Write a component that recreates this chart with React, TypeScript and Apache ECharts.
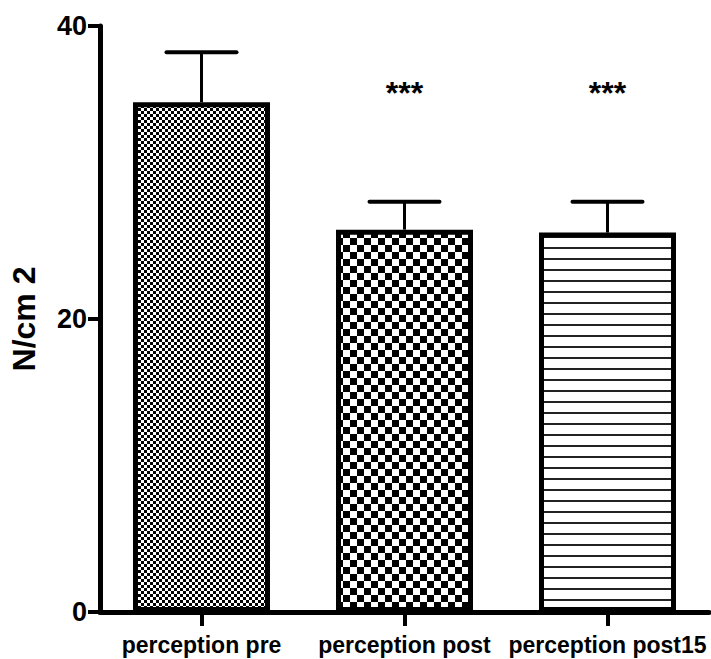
import React, { useEffect, useRef } from "react";
import * as echarts from "echarts";

const categories = ["perception pre", "perception post", "perception post15"];
const means = [34.8, 26.1, 25.9];
const errorTops = [38.2, 28.0, 28.0];
const significance = ["", "***", "***"];
const yMin = 0;
const yMax = 40;
const yInterval = 20;
const STAR_LEVEL = 35.4;

const FONT = '"Liberation Sans", Arial, sans-serif';

function makePattern(kind: string) {
  const c = document.createElement("canvas");
  let w = 6;
  let h = 6;
  if (kind === "coarse") {
    w = 14;
    h = 14;
  } else if (kind === "lines") {
    w = 11;
    h = 11;
  }
  c.width = w;
  c.height = h;
  const ctx = c.getContext("2d")!;
  ctx.fillStyle = "#fff";
  ctx.fillRect(0, 0, w, h);
  ctx.fillStyle = "#000";
  if (kind === "fine") {
    ctx.fillRect(0, 0, 3, 3);
    ctx.fillRect(3, 3, 3, 3);
  } else if (kind === "coarse") {
    ctx.fillRect(0, 0, 7, 7);
    ctx.fillRect(7, 7, 7, 7);
  } else {
    ctx.fillStyle = "#222";
    ctx.fillRect(0, 5, 11, 2);
  }
  return { image: c, repeat: "repeat", imageWidth: w, imageHeight: h } as any;
}

export default function App() {
  const ref = useRef<HTMLDivElement>(null);
  useEffect(() => {
    if (!ref.current) return;
    const chart = echarts.init(ref.current, null, { renderer: "svg" });
    const patterns = [makePattern("fine"), makePattern("coarse"), makePattern("lines")];
    chart.setOption({
      animation: false,
      backgroundColor: "#fff",
      grid: {
        left: 100,
        right: 2,
        top: 26,
        bottom: 47,
        containLabel: false,
        outerBoundsMode: "none",
      },
      xAxis: {
        type: "category",
        data: categories,
        axisLine: { show: true, lineStyle: { color: "#000", width: 5 } },
        axisTick: { show: true, alignWithLabel: true, length: 14, lineStyle: { color: "#000", width: 4 } },
        axisLabel: {
          color: "#000",
          fontWeight: "bold",
          fontSize: 23,
          fontFamily: FONT,
          margin: 21,
          interval: 0,
          hideOverlap: false,
        },
        splitLine: { show: false },
      },
      yAxis: {
        type: "value",
        min: yMin,
        max: yMax,
        interval: yInterval,
        name: "N/cm 2",
        nameLocation: "middle",
        nameRotate: 90,
        nameGap: 60,
        nameTextStyle: { color: "#000", fontWeight: "bold", fontSize: 32, fontFamily: FONT },
        axisLine: { show: true, lineStyle: { color: "#000", width: 5 } },
        axisTick: { show: true, length: 12, lineStyle: { color: "#000", width: 4 } },
        axisLabel: { color: "#000", fontWeight: "bold", fontSize: 27, fontFamily: FONT, margin: 13 },
        splitLine: { show: false },
      },
      series: [
        {
          type: "bar",
          barWidth: 137,
          data: means.map((v, i) => ({
            value: v,
            itemStyle: { color: patterns[i], borderColor: "#000", borderWidth: 5 },
          })),
          z: 2,
        },
        {
          type: "custom",
          z: 3,
          data: categories.map((_, i) => [i, errorTops[i], means[i]]),
          renderItem: (params: any, api: any) => {
            const x = api.value(0);
            const top = api.coord([x, api.value(1)]);
            const base = api.coord([x, api.value(2)]);
            const half = 35;
            return {
              type: "group",
              children: [
                {
                  type: "line",
                  shape: { x1: base[0], y1: base[1], x2: top[0], y2: top[1] },
                  style: { stroke: "#000", lineWidth: 3 },
                },
                {
                  type: "line",
                  shape: { x1: top[0] - half, y1: top[1], x2: top[0] + half, y2: top[1] },
                  style: { stroke: "#000", lineWidth: 4, lineCap: "round" },
                },
              ],
            };
          },
        },
        {
          type: "custom",
          z: 4,
          data: categories.map((_, i) => [i, STAR_LEVEL]),
          renderItem: (params: any, api: any) => {
            const i = api.value(0);
            const p = api.coord([i, api.value(1)]);
            return {
              type: "text",
              x: p[0],
              y: p[1],
              style: {
                text: significance[i],
                fill: "#000",
                font: 'bold 32px "Liberation Sans", Arial, sans-serif',
                align: "center",
                verticalAlign: "middle",
              },
            };
          },
        },
      ],
    });
    return () => chart.dispose();
  }, []);
  return (
    <div
      ref={ref}
      style={{ position: "fixed", left: 0, top: 0, width: 711, height: 659, background: "#fff" }}
    />
  );
}
